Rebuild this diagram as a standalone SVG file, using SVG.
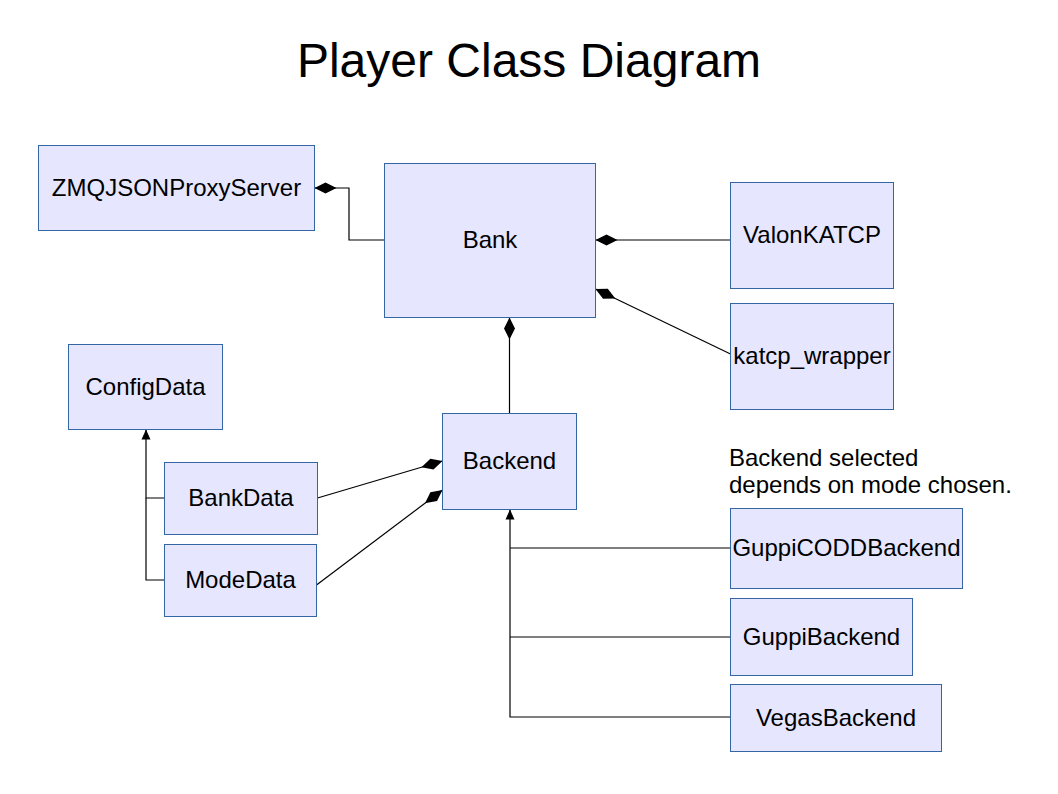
<svg xmlns="http://www.w3.org/2000/svg" width="1058" height="794" viewBox="0 0 1058 794">
<style>
.box{fill:#e6e6ff;stroke:#3465a4;stroke-width:1}
.lbl{font-family:"Liberation Sans",Arial,sans-serif;font-size:24px;fill:#000;text-anchor:middle;dominant-baseline:central}
.note{font-family:"Liberation Sans",Arial,sans-serif;font-size:24px;fill:#000}
.con{fill:none;stroke:#000;stroke-width:1.2}
</style>
<defs>
<marker id="dia" markerUnits="userSpaceOnUse" markerWidth="30" markerHeight="14" refX="0" refY="0" orient="auto" overflow="visible">
<path d="M0,0 L11,-5.5 L22,0 L11,5.5 z" fill="#000"/>
</marker>
<marker id="tri" markerUnits="userSpaceOnUse" markerWidth="14" markerHeight="14" refX="0" refY="0" orient="auto" overflow="visible">
<path d="M0,0 L-10,-4.5 L-10,4.5 z" fill="#000"/>
</marker>
</defs>
<rect width="1058" height="794" fill="#fff"/>
<text x="529" y="77" font-family="'Liberation Sans',Arial,sans-serif" font-size="48" text-anchor="middle">Player Class Diagram</text>

<g id="connectors">
<path class="con" d="M314.5,188 L349,188 L349,240 L384.5,240" marker-start="url(#dia)"/>
<path class="con" d="M595.5,240 L730.5,240" marker-start="url(#dia)"/>
<path class="con" d="M595.5,289 L730.5,354" marker-start="url(#dia)"/>
<path class="con" d="M509.5,317.5 L509.5,413.5" marker-start="url(#dia)"/>
<path class="con" d="M442.5,461 L317.5,498" marker-start="url(#dia)"/>
<path class="con" d="M442.5,490 L316.5,585" marker-start="url(#dia)"/>
<path class="con" d="M164.5,498 L146,498 L146,429.5" marker-end="url(#tri)"/>
<path class="con" d="M164.5,580 L146,580 L146,498"/>
<path class="con" d="M730.5,548 L510,548"/>
<path class="con" d="M730.5,637 L510,637"/>
<path class="con" d="M730.5,717 L510,717 L510,509.5" marker-end="url(#tri)"/>
</g>

<g id="ZMQJSONProxyServer"><rect class="box" x="38.5" y="145.5" width="276" height="85"/><text class="lbl" x="176.5" y="187">ZMQJSONProxyServer</text></g>
<g id="Bank"><rect class="box" x="384.5" y="163.5" width="211" height="154"/><text class="lbl" x="490" y="239">Bank</text></g>
<g id="ValonKATCP"><rect class="box" x="730.5" y="182.5" width="163" height="106"/><text class="lbl" x="812" y="234">ValonKATCP</text></g>
<g id="katcp_wrapper"><rect class="box" x="730.5" y="303.5" width="163" height="106"/><text class="lbl" x="812" y="355">katcp_wrapper</text></g>
<g id="ConfigData"><rect class="box" x="68.5" y="344.5" width="154" height="85"/><text class="lbl" x="145.5" y="386">ConfigData</text></g>
<g id="BankData"><rect class="box" x="164.5" y="462.5" width="153" height="72"/><text class="lbl" x="241" y="497">BankData</text></g>
<g id="ModeData"><rect class="box" x="164.5" y="544.5" width="152" height="72"/><text class="lbl" x="240.5" y="579">ModeData</text></g>
<g id="Backend"><rect class="box" x="442.5" y="413.5" width="134" height="96"/><text class="lbl" x="509.5" y="460">Backend</text></g>
<g id="GuppiCODDBackend"><rect class="box" x="730.5" y="508.5" width="232" height="80"/><text class="lbl" x="846.5" y="547">GuppiCODDBackend</text></g>
<g id="GuppiBackend"><rect class="box" x="730.5" y="598.5" width="182" height="77"/><text class="lbl" x="821.5" y="636">GuppiBackend</text></g>
<g id="VegasBackend"><rect class="box" x="730.5" y="684.5" width="211" height="67"/><text class="lbl" x="836" y="717">VegasBackend</text></g>
<g id="note"><text class="note" x="729" y="466">Backend selected</text><text class="note" x="729" y="493">depends on mode chosen.</text></g>
</svg>
